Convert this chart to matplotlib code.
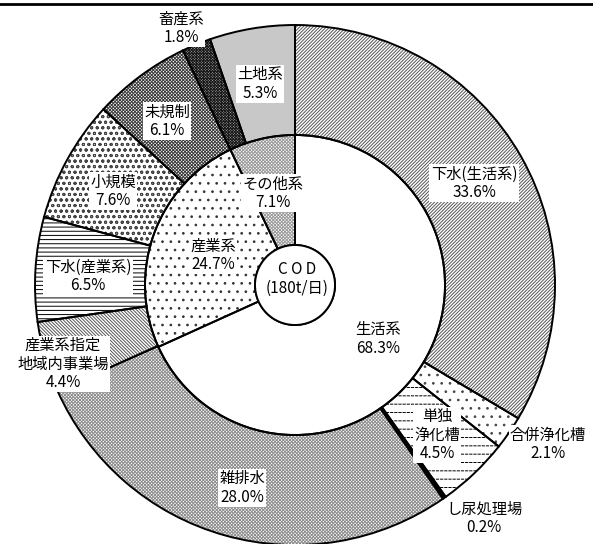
import matplotlib
matplotlib.use("Agg")
import matplotlib.pyplot as plt
from matplotlib.patches import Circle
from matplotlib.lines import Line2D

plt.rcParams['font.family'] = ['Noto Sans CJK JP', 'DejaVu Sans']
plt.rcParams['hatch.linewidth'] = 0.7

# ---- data ----
outer_labels = ['下水(生活系)', '合併浄化槽', '単独\n浄化槽', 'し尿処理場', '雑排水',
                '産業系指定\n地域内事業場', '下水(産業系)', '小規模', '未規制',
                '畜産系', '土地系']
outer_values = [33.6, 2.1, 4.5, 0.2, 28.0, 4.4, 6.5, 7.6, 6.1, 1.8, 5.3]
inner_labels = ['生活系', '産業系', 'その他系']
inner_values = [68.3, 24.7, 7.1]
center_text = 'C O D\n(180t/日)'

# ---- styles / layout ----
W, H = 593, 544
cx, cy = 295, H - 285
R_out, R_mid, R_in = 260, 150, 40

outer_hatch = ['/' * 10, '..', '--', '', 'x' * 10, '\\' * 10, '----', 'ooo', 'x' * 10, 'x' * 12, '']
outer_hcol = ['#555555', '#444444', 'black', 'black', '#8c8c8c', '#555555', 'black', '#444444',
              '#3a3a3a', '#1a1a1a', '#c8c8c8']
outer_fill = ['white', 'white', 'white', 'black', 'white', 'white', 'white', 'white',
              'white', '#b0b0b0', '#c8c8c8']
# white vertical hatch that breaks the 単独浄化槽 lines into dashes
outer_break = ['', '', '||||', '', '', '', '', '', '', '', '']
inner_hatch = ['', '..', 'x' * 10]
inner_hcol = ['white', '#333333', '#9a9a9a']
inner_fill = ['white', 'white', 'white']

outer_pos = [(474, 183), (548, 444), (437, 435), (484, 518), (242, 488),
             (63, 364), (88, 276), (113, 191), (167, 121), (181, 28), (260, 84)]
inner_pos = [(378, 339), (213, 255), (273, 193)]

fig = plt.figure(figsize=(W / 100, H / 100), dpi=100)
fig.patch.set_facecolor('white')
ax = fig.add_axes([0, 0, 1, 1])

common = dict(center=(cx, cy), startangle=90, counterclock=False)

# layer 1: fills + hatches
wo, _ = ax.pie(outer_values, radius=R_out, colors=outer_fill,
               wedgeprops=dict(width=R_out - R_mid, linewidth=0), **common)
for w, h, c in zip(wo, outer_hatch, outer_hcol):
    w.set_edgecolor(c)
    w.set_linewidth(0)
    w.set_hatch(h)
wi, _ = ax.pie(inner_values, radius=R_mid, colors=inner_fill,
               wedgeprops=dict(width=R_mid - R_in, linewidth=0), **common)
for w, h, c in zip(wi, inner_hatch, inner_hcol):
    w.set_edgecolor(c)
    w.set_linewidth(0)
    w.set_hatch(h)

# layer 2: white breaker hatch
wb, _ = ax.pie(outer_values, radius=R_out,
               wedgeprops=dict(width=R_out - R_mid, linewidth=0), **common)
for w, h in zip(wb, outer_break):
    w.set_facecolor('none')
    w.set_edgecolor('white')
    w.set_linewidth(0)
    w.set_hatch(h)

# layer 3: outlines
for vals, r in ((outer_values, R_out), (inner_values, R_mid)):
    ws, _ = ax.pie(vals, radius=r, wedgeprops=dict(width=110, linewidth=1.4), **common)
    for w in ws:
        w.set_facecolor('none')
        w.set_edgecolor('black')

ax.add_patch(Circle((cx, cy), R_in, facecolor='white', edgecolor='black', linewidth=1.4, zorder=3))

ax.set_xlim(0, W)
ax.set_ylim(0, H)
ax.set_aspect('equal')
ax.axis('off')

box = dict(facecolor='white', edgecolor='none', pad=1.0)
fs = 11
for lab, v, (x, y) in zip(outer_labels, outer_values, outer_pos):
    ax.text(x, H - y, f'{lab}\n{v:.1f}%', ha='center', va='center', fontsize=fs,
            linespacing=1.1, bbox=box, zorder=5)
for lab, v, (x, y) in zip(inner_labels, inner_values, inner_pos):
    ax.text(x, H - y, f'{lab}\n{v:.1f}%', ha='center', va='center', fontsize=fs,
            linespacing=1.1, bbox=box, zorder=5)
ax.text(cx + 2, cy + 6, center_text, ha='center', va='center', fontsize=fs,
        linespacing=1.15, zorder=6)

fig.add_artist(Line2D([0, 1], [1 - 4 / H, 1 - 4 / H], transform=fig.transFigure,
                      color='black', linewidth=2))

fig.savefig('out.png', dpi=100, facecolor='white')
